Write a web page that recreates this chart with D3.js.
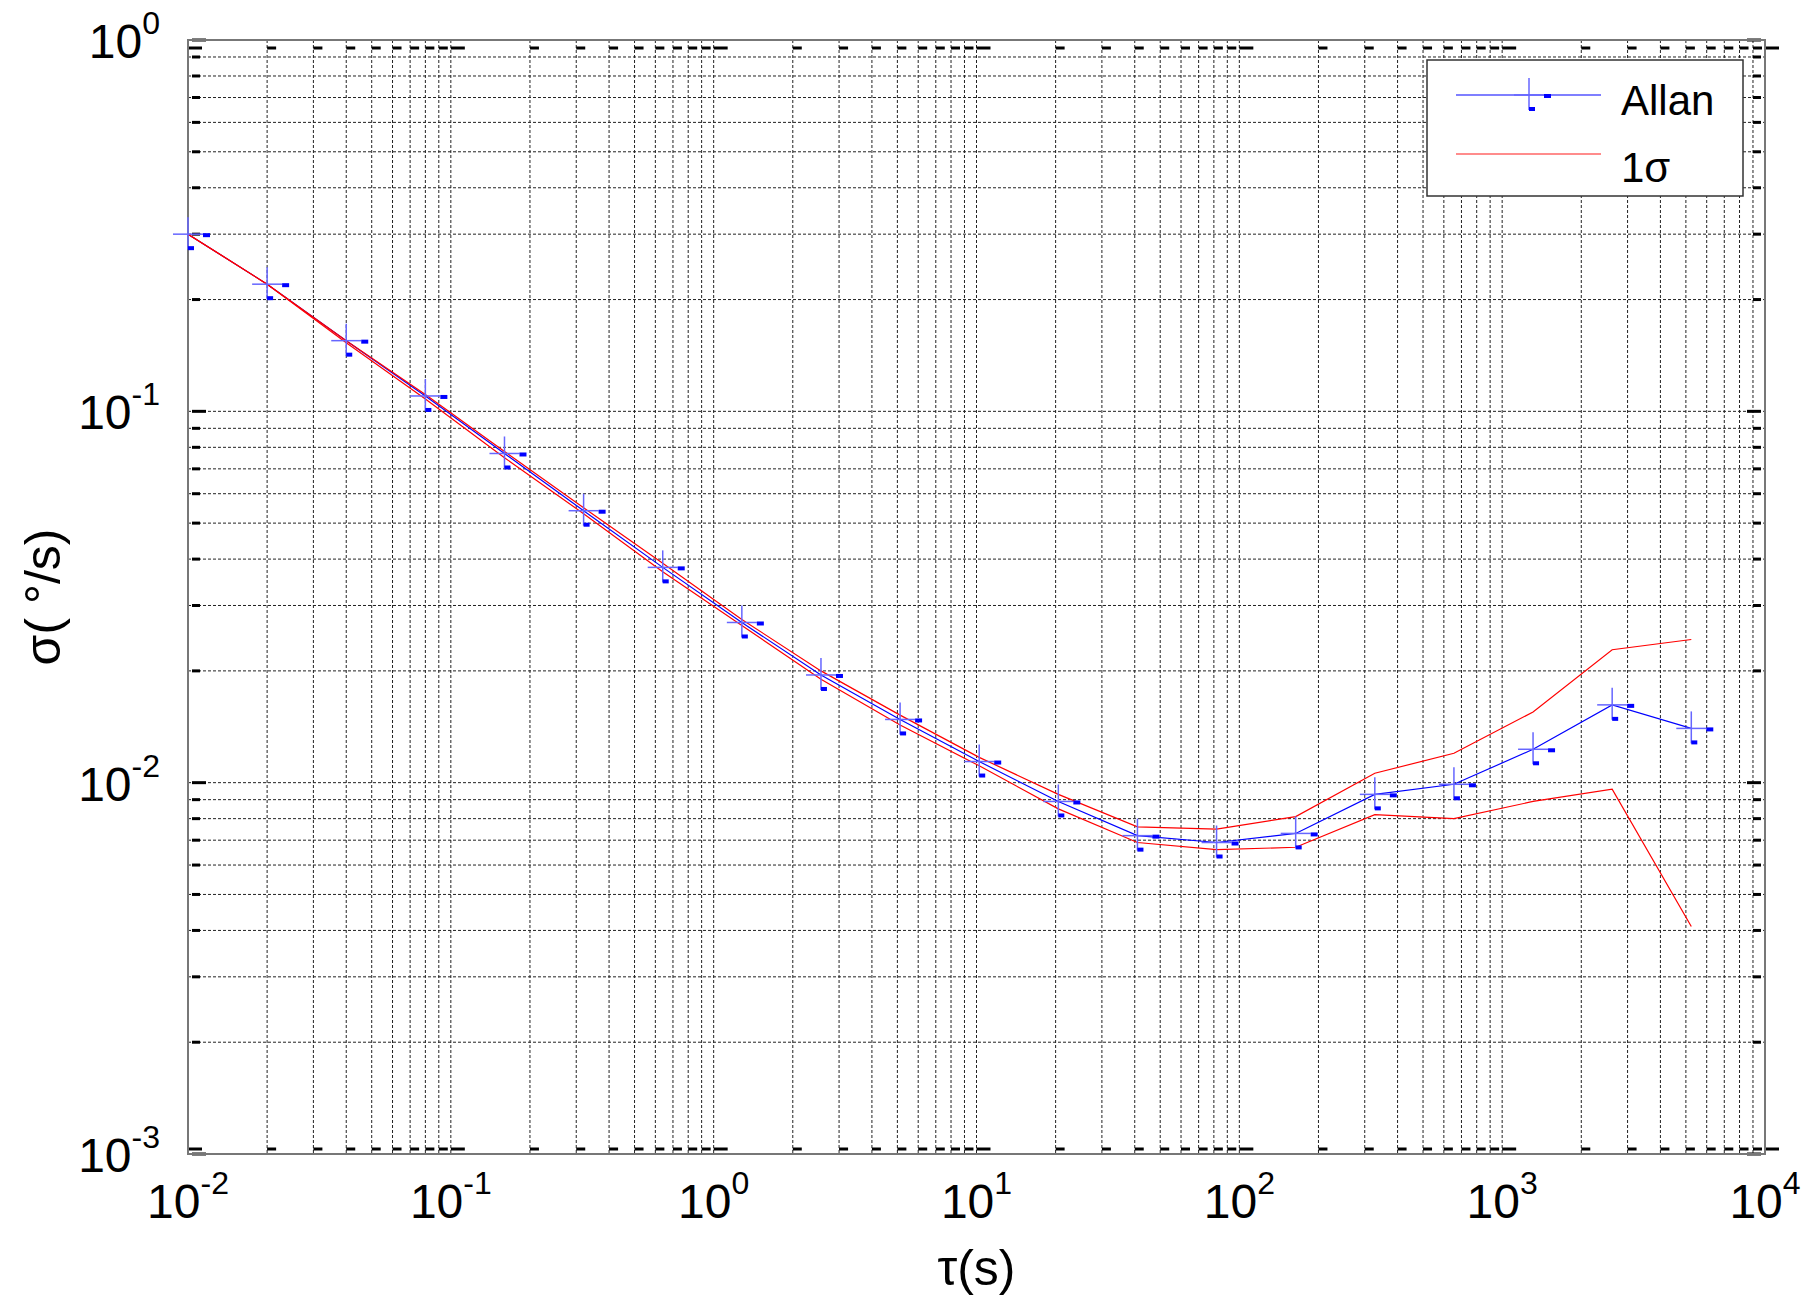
<!DOCTYPE html>
<html>
<head>
<meta charset="utf-8">
<script src="https://d3js.org/d3.v7.min.js"></script>
<style>
body { margin: 0; background: #fff; }
text { font-family: "Liberation Sans", Arial, sans-serif; }
</style>
</head>
<body>
<div id="chart"></div>
<script>
const tau = [0.01, 0.02, 0.04, 0.08, 0.16, 0.32, 0.64, 1.28, 2.56, 5.12, 10.24, 20.48, 40.96, 81.92, 163.84, 327.68, 655.36, 1310.72, 2621.44, 5242.88];
const allan = [0.3, 0.22, 0.155, 0.11, 0.077, 0.054, 0.038, 0.027, 0.0195, 0.0148, 0.0114, 0.0089, 0.0072, 0.0069, 0.0073, 0.0093, 0.0099, 0.0123, 0.0162, 0.014];
const upper = [0.3, 0.22, 0.155, 0.111, 0.078, 0.055, 0.039, 0.0275, 0.02, 0.0152, 0.0117, 0.0093, 0.0076, 0.0075, 0.0081, 0.0106, 0.012, 0.0155, 0.0228, 0.0243];
const lower = [0.3, 0.22, 0.153, 0.108, 0.075, 0.053, 0.037, 0.0265, 0.019, 0.0143, 0.0111, 0.0085, 0.0069, 0.0066, 0.0067, 0.0082, 0.008, 0.0089, 0.0096, 0.0041];
const xExps = [-2, -1, 0, 1, 2, 3, 4];
const yExps = [-3, -2, -1, 0];
const legendLabels = ["Allan", "1\u03c3"];

const W = 1811, H = 1299;
const m = {l: 188, r: W - 1765, t: 40, b: H - 1154};

const svg = d3.select("#chart").append("svg").attr("width", W).attr("height", H);

const x = d3.scaleLog().domain([1e-2, 1e4]).range([m.l, W - m.r]);
const y = d3.scaleLog().domain([1e-3, 1]).range([H - m.b, m.t]);

// all ticks incl. minor
const xTicks = [], yTicks = [];
xExps.slice(0, -1).forEach(e => { for (let k = 1; k < 10; k++) xTicks.push(k * Math.pow(10, e)); });
xTicks.push(1e4);
yExps.slice(0, -1).forEach(e => { for (let k = 1; k < 10; k++) yTicks.push(k * Math.pow(10, e)); });
yTicks.push(1);

const grid = svg.append("g");
grid.selectAll(".gx").data(xTicks).enter().append("line")
    .attr("x1", d => x(d)).attr("x2", d => x(d))
    .attr("y1", m.t).attr("y2", H - m.b)
    .attr("stroke", "#222").attr("stroke-width", 1).attr("stroke-dasharray", "3,2");
grid.selectAll(".gy").data(yTicks).enter().append("line")
    .attr("y1", d => y(d)).attr("y2", d => y(d))
    .attr("x1", m.l).attr("x2", W - m.r)
    .attr("stroke", "#222").attr("stroke-width", 1).attr("stroke-dasharray", "3,2");

// inward ticks on all four sides
const isMajor = v => Math.abs(Math.log10(v) - Math.round(Math.log10(v))) < 1e-9;
const tk = svg.append("g").attr("stroke", "#000").attr("stroke-width", 3);
xTicks.forEach(v => {
    const L = isMajor(v) ? 14 : 9;
    tk.append("line").attr("x1", x(v)).attr("x2", x(v) + L).attr("y1", H - m.b - 5).attr("y2", H - m.b - 5);
    tk.append("line").attr("x1", x(v)).attr("x2", x(v) + L).attr("y1", m.t + 8).attr("y2", m.t + 8);
});
yTicks.forEach(v => {
    const L = isMajor(v) ? 14 : 8;
    tk.append("line").attr("x1", m.l + 4).attr("x2", m.l + 4 + L).attr("y1", y(v)).attr("y2", y(v));
    tk.append("line").attr("x1", W - m.r - 4 - L).attr("x2", W - m.r - 4).attr("y1", y(v)).attr("y2", y(v));
});

svg.append("rect").attr("x", m.l).attr("y", m.t)
    .attr("width", W - m.l - m.r).attr("height", H - m.t - m.b)
    .attr("fill", "none").attr("stroke", "#777").attr("stroke-width", 2);

// tick labels
xExps.forEach(e => {
    const t = svg.append("text").attr("x", x(Math.pow(10, e))).attr("y", 1218)
        .attr("text-anchor", "middle").attr("font-size", 48);
    t.append("tspan").text("10");
    t.append("tspan").attr("dy", -24).attr("font-size", 32).text(e);
});
yExps.forEach(e => {
    const t = svg.append("text").attr("x", 160).attr("y", y(Math.pow(10, e)) + 18)
        .attr("text-anchor", "end").attr("font-size", 48);
    t.append("tspan").text("10");
    t.append("tspan").attr("dy", -24).attr("font-size", 32).text(e);
});

svg.append("text").attr("x", (m.l + W - m.r) / 2).attr("y", 1285)
    .attr("text-anchor", "middle").attr("font-size", 50).text("\u03c4(s)");
svg.append("text").attr("transform", `translate(60,${(m.t + H - m.b) / 2}) rotate(-90)`)
    .attr("text-anchor", "middle").attr("font-size", 50).text("\u03c3( \u00b0/s)");

// lines
const line = d3.line().x(d => x(d[0])).y(d => y(d[1]));
const redLine = vals => svg.append("path").datum(tau.map((t, i) => [t, vals[i]]))
    .attr("d", line).attr("fill", "none").attr("stroke", "#f00").attr("stroke-width", 1.2);
svg.append("path").datum(tau.map((t, i) => [t, allan[i]]))
    .attr("d", line).attr("fill", "none").attr("stroke", "#00f").attr("stroke-width", 1.2);
redLine(upper);
redLine(lower);

function marker(g, cx, cy) {
    g.append("line").attr("x1", cx - 15).attr("x2", cx + 15).attr("y1", cy).attr("y2", cy)
        .attr("stroke", "#66f").attr("stroke-width", 1.5);
    g.append("line").attr("x1", cx).attr("x2", cx).attr("y1", cy - 17).attr("y2", cy + 15)
        .attr("stroke", "#66f").attr("stroke-width", 1.5);
    g.append("rect").attr("x", cx + 15).attr("y", cy - 1).attr("width", 7).attr("height", 4).attr("fill", "#00f");
    g.append("rect").attr("x", cx).attr("y", cy + 12).attr("width", 6).attr("height", 4).attr("fill", "#00f");
}
const mk = svg.append("g");
tau.forEach((t, i) => marker(mk, x(t), y(allan[i])));

// legend
const lg = svg.append("g");
lg.append("rect").attr("x", 1427).attr("y", 60).attr("width", 316).attr("height", 136)
    .attr("fill", "#fff").attr("stroke", "#333").attr("stroke-width", 1.5);
lg.append("line").attr("x1", 1456).attr("x2", 1601).attr("y1", 95).attr("y2", 95)
    .attr("stroke", "#00f").attr("stroke-width", 1.2);
marker(lg, 1529, 95);
lg.append("line").attr("x1", 1456).attr("x2", 1601).attr("y1", 154).attr("y2", 154)
    .attr("stroke", "#f66").attr("stroke-width", 1.5);
lg.append("text").attr("x", 1621).attr("y", 115).attr("font-size", 42).text(legendLabels[0]);
lg.append("text").attr("x", 1621).attr("y", 182).attr("font-size", 42).text(legendLabels[1]);
</script>
</body>
</html>
